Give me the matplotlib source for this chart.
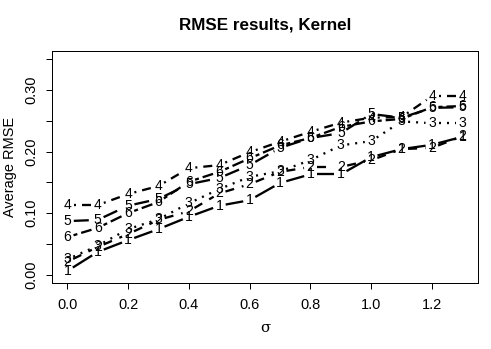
import numpy as np
import matplotlib
matplotlib.use('Agg')
import matplotlib.pyplot as plt

plt.rcParams['font.family'] = ['Liberation Sans', 'DejaVu Sans']
plt.rcParams['lines.scale_dashes'] = False

sigma = [0.0, 0.1, 0.2, 0.3, 0.4, 0.5, 0.6, 0.7, 0.8, 0.9, 1.0, 1.1, 1.2, 1.3]
rmse_1 = [0.006, 0.037, 0.056, 0.074, 0.094, 0.112, 0.121, 0.149, 0.163, 0.163, 0.191, 0.204, 0.211, 0.224]
rmse_2 = [0.021, 0.045, 0.066, 0.089, 0.103, 0.132, 0.147, 0.167, 0.175, 0.175, 0.186, 0.204, 0.206, 0.225]
rmse_3 = [0.025, 0.047, 0.074, 0.090, 0.116, 0.139, 0.159, 0.168, 0.186, 0.210, 0.217, 0.249, 0.246, 0.246]
rmse_4 = [0.113, 0.113, 0.131, 0.144, 0.173, 0.178, 0.199, 0.216, 0.232, 0.247, 0.255, 0.256, 0.290, 0.290]
rmse_5 = [0.087, 0.089, 0.112, 0.123, 0.147, 0.157, 0.178, 0.206, 0.222, 0.230, 0.261, 0.255, 0.271, 0.272]
rmse_6 = [0.061, 0.076, 0.100, 0.118, 0.151, 0.167, 0.189, 0.210, 0.222, 0.240, 0.249, 0.253, 0.272, 0.274]
series = [rmse_1, rmse_2, rmse_3, rmse_4, rmse_5, rmse_6]
series_labels = ['1', '2', '3', '4', '5', '6']
x_ticks = [0.0, 0.2, 0.4, 0.6, 0.8, 1.0, 1.2]
y_ticks = [0.00, 0.05, 0.10, 0.15, 0.20, 0.25, 0.30, 0.35]
y_ticklabels = ['0.00', '', '0.10', '', '0.20', '', '0.30', '']

W, H, DPI = 491, 349, 100
px = 72.0 / DPI  # points per pixel

# R lty patterns (lwd ~2px), in pixels
dash_px = [None, (9, 8), (2, 6), (2, 6, 9, 6), (15, 6), (4, 4, 12, 4)]

fig = plt.figure(figsize=(W / DPI, H / DPI), dpi=DPI)
L, R, T, B = 51.5, 478.2, 50.6, 283.3
ax = fig.add_axes([L / W, 1 - B / H, (R - L) / W, (B - T) / H])
ax.set_xlim(-0.052, 1.352)
ax.set_ylim(-0.014, 0.364)

fig.canvas.draw()
trans = ax.transData
inv = trans.inverted()
gap = 6.5
lw = 2.3 * px

for vals, lab, dp in zip(series, series_labels, dash_px):
    pts = trans.transform(np.column_stack([sigma, vals]))
    for i in range(len(pts) - 1):
        p0, p1 = pts[i], pts[i + 1]
        d = p1 - p0
        ln = np.hypot(*d)
        if ln <= 2 * gap:
            continue
        u = d / ln
        a = inv.transform(p0 + u * gap)
        b = inv.transform(p1 - u * gap)
        if dp is None:
            ls = '-'
        else:
            ls = (0, tuple(v * px for v in dp))
        ax.plot([a[0], b[0]], [a[1], b[1]], color='black', lw=lw, linestyle=ls,
                solid_capstyle='butt', dash_capstyle='butt')
    for xv, yv in zip(sigma, vals):
        ax.text(xv, yv, lab, ha='center', va='center', fontsize=14 * px, color='black')

for s in ax.spines.values():
    s.set_linewidth(1.0 * px)

ax.set_xticks(x_ticks)
ax.set_xticklabels(['%.1f' % v for v in x_ticks])
ax.set_yticks(y_ticks)
ax.set_yticklabels(y_ticklabels)
ax.tick_params(length=6 * px, width=1.0 * px, labelsize=14.5 * px, pad=7 * px)
ax.tick_params(axis='x', pad=9 * px)
for t in ax.get_yticklabels():
    t.set_rotation(90)
    t.set_va('center')

fig.text(264.9 / W, 1 - 25 / H, 'RMSE results, Kernel', ha='center', va='center',
         fontsize=17 * px, fontweight='bold')
fig.text(264.9 / W, 1 - 328 / H, 'σ', ha='center', va='center',
         fontsize=15 * px, family=['DejaVu Serif'])
fig.text(10 / W, 1 - 167 / H, 'Average RMSE', ha='center', va='center',
         rotation=90, fontsize=14.5 * px)

fig.savefig('out.png', dpi=DPI)
